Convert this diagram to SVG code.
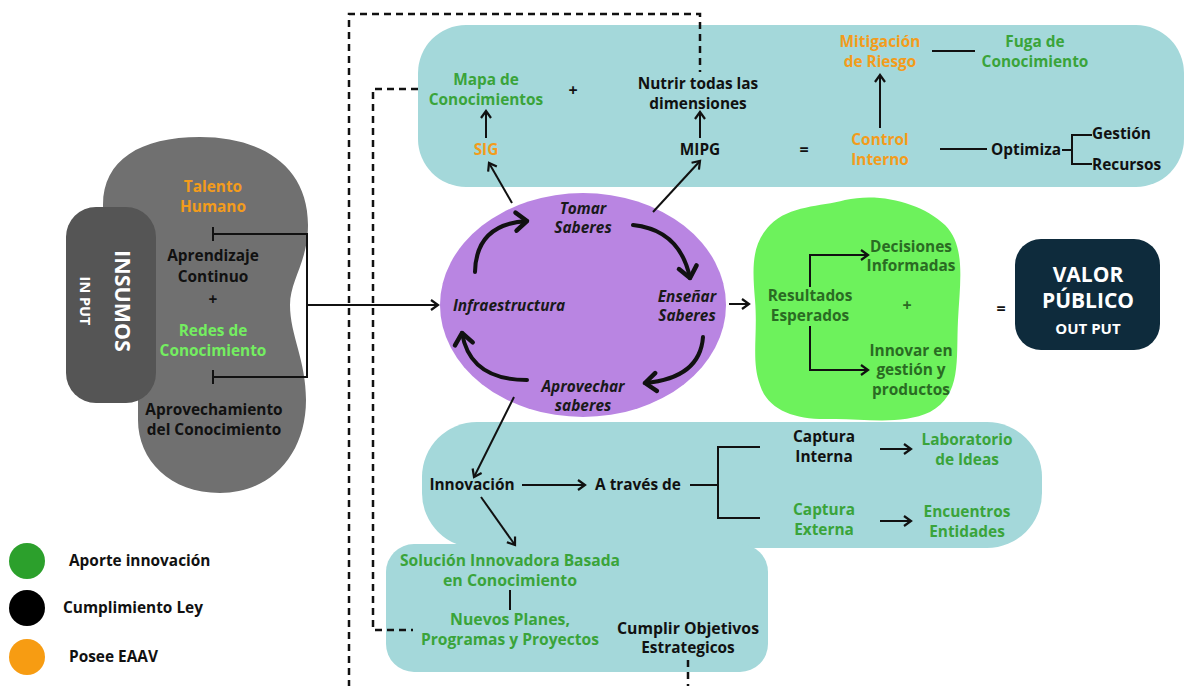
<svg xmlns="http://www.w3.org/2000/svg" width="1186" height="686" viewBox="0 0 1186 686">
<style>
text{font-family:"Open Sans","DejaVu Sans",sans-serif;font-weight:700;font-size:15.4px;text-anchor:middle}
.bk{fill:#111}
.or{fill:#f39c1c}
.gr{fill:#3aa43a}
.lg{fill:#74ee60}
.dg{fill:#2a6b23}
.wh{fill:#fff}
.it{font-style:italic;fill:#1a1a1a}
.ln{fill:none;stroke:#111;stroke-width:2}
.ds{fill:none;stroke:#111;stroke-width:2.5;stroke-dasharray:7 5}
.cv{fill:none;stroke:#111;stroke-width:4;stroke-linecap:round}
.lt{text-anchor:start}
</style>
<defs>
<marker id="ah" markerUnits="userSpaceOnUse" markerWidth="14" markerHeight="14" refX="10" refY="7" orient="auto">
<polyline points="3,2 10,7 3,12" fill="none" stroke="#111" stroke-width="2.2"/>
</marker>
<marker id="ch" markerUnits="userSpaceOnUse" markerWidth="24" markerHeight="24" refX="16" refY="12" orient="auto">
<polyline points="5,3 16,12 5,21" fill="none" stroke="#111" stroke-width="4.5" stroke-linecap="round" stroke-linejoin="round"/>
</marker>
</defs>
<rect width="1186" height="686" fill="#fff"/>

<g id="insumos">
<path d="M103,205 C103,160 140,137 200,137 C260,137 308,165 308,225 C308,262 290,280 290,305 C290,335 306,360 306,400 C306,455 270,493 220,493 C170,493 138,460 138,420 L138,400 L105,400 Z" fill="#707070"/>
<rect x="66" y="207" width="90" height="196" rx="30" fill="#555"/>
<text class="wh" transform="translate(115,301) rotate(90)" style="font-size:21.5px">INSUMOS</text>
<text class="wh" transform="translate(80,301) rotate(90)" style="font-size:14.5px">IN PUT</text>
<text class="or" x="213" y="192">Talento</text>
<text class="or" x="213" y="212">Humano</text>
<text class="bk" x="213" y="261">Aprendizaje</text>
<text class="bk" x="213" y="282">Continuo</text>
<text class="bk" x="213" y="305">+</text>
<text class="lg" x="213" y="336">Redes de</text>
<text class="lg" x="213" y="356">Conocimiento</text>
<text class="bk" x="214" y="415">Aprovechamiento</text>
<text class="bk" x="214" y="435">del Conocimiento</text>
</g>

<g id="top-panel">
<rect x="418" y="25" width="766" height="162" rx="48" fill="#a4d8da"/>
<text class="gr" x="486" y="85">Mapa de</text>
<text class="gr" x="486" y="105">Conocimientos</text>
<text class="bk" x="573" y="96" style="font-size:16px">+</text>
<text class="bk" x="698" y="89">Nutrir todas las</text>
<text class="bk" x="698" y="109">dimensiones</text>
<text class="or" x="486" y="155">SIG</text>
<text class="bk" x="700" y="155">MIPG</text>
<text class="bk" x="804" y="155" style="font-size:16px">=</text>
<text class="or" x="880" y="47">Mitigación</text>
<text class="or" x="880" y="67">de Riesgo</text>
<text class="gr" x="1035" y="47">Fuga de</text>
<text class="gr" x="1035" y="67">Conocimiento</text>
<text class="or" x="880" y="145">Control</text>
<text class="or" x="880" y="165">Interno</text>
<text class="bk lt" x="991" y="155">Optimiza</text>
<text class="bk lt" x="1092" y="139">Gestión</text>
<text class="bk lt" x="1092" y="170">Recursos</text>
</g>

<g id="ciclo">
<ellipse cx="583" cy="305" rx="143" ry="112" fill="#b985e2"/>
<text class="it" x="583" y="214">Tomar</text>
<text class="it" x="583" y="233">Saberes</text>
<text class="it" x="687" y="302">Enseñar</text>
<text class="it" x="687" y="321">Saberes</text>
<text class="it" x="509" y="311">Infraestructura</text>
<text class="it" x="583" y="392">Aprovechar</text>
<text class="it" x="583" y="411">saberes</text>
</g>

<g id="resultados">
<path d="M770,225 C790,205 820,207 845,200 C880,192 922,203 945,225 C966,246 960,282 958,320 C956,360 962,395 930,412 C900,426 860,418 830,419 C795,420 768,410 760,385 C751,360 758,335 755,300 C752,265 752,244 770,225 Z" fill="#6df25c"/>
<text class="dg" x="911" y="252">Decisiones</text>
<text class="dg" x="911" y="271">Informadas</text>
<text class="dg" x="810" y="301">Resultados</text>
<text class="dg" x="810" y="321">Esperados</text>
<text class="dg" x="907" y="311" style="font-size:16px">+</text>
<text class="dg" x="911" y="356">Innovar en</text>
<text class="dg" x="911" y="375">gestión y</text>
<text class="dg" x="911" y="395">productos</text>
</g>

<g id="valor">
<text class="bk" x="1001" y="314" style="font-size:16px">=</text>
<rect x="1015" y="239" width="145" height="111" rx="26" fill="#0e2b3c"/>
<text class="wh" x="1088" y="282" style="font-size:21px">VALOR</text>
<text class="wh" x="1088" y="308" style="font-size:21px">PÚBLICO</text>
<text class="wh" x="1088" y="334" style="font-size:15px">OUT PUT</text>
</g>

<g id="innovacion-panel">
<rect x="422" y="422" width="620" height="126" rx="55" fill="#a4d8da"/>
<rect x="386" y="544" width="382" height="128" rx="28" fill="#a4d8da"/>
<text class="bk" x="472" y="490">Innovación</text>
<text class="bk" x="638" y="490">A través de</text>
<text class="bk" x="824" y="442">Captura</text>
<text class="bk" x="824" y="462">Interna</text>
<text class="gr" x="967" y="445">Laboratorio</text>
<text class="gr" x="967" y="465">de Ideas</text>
<text class="gr" x="824" y="515">Captura</text>
<text class="gr" x="824" y="535">Externa</text>
<text class="gr" x="967" y="517">Encuentros</text>
<text class="gr" x="967" y="537">Entidades</text>
<text class="gr" x="510" y="566" textLength="220" lengthAdjust="spacingAndGlyphs">Solución Innovadora Basada</text>
<text class="gr" x="510" y="586" textLength="134" lengthAdjust="spacingAndGlyphs">en Conocimiento</text>
<text class="gr" x="510" y="625" textLength="120" lengthAdjust="spacingAndGlyphs">Nuevos Planes,</text>
<text class="gr" x="510" y="645" textLength="178" lengthAdjust="spacingAndGlyphs">Programas y Proyectos</text>
<text class="bk" x="688" y="634" textLength="142" lengthAdjust="spacingAndGlyphs">Cumplir Objetivos</text>
<text class="bk" x="688" y="653">Estrategicos</text>
</g>

<g id="leyenda">
<circle cx="27" cy="561" r="18" fill="#2ca02c"/>
<circle cx="27" cy="608" r="18" fill="#000"/>
<circle cx="27" cy="657" r="18" fill="#f79c12"/>
<text class="bk lt" x="69" y="566">Aporte innovación</text>
<text class="bk lt" x="63" y="613">Cumplimiento Ley</text>
<text class="bk lt" x="69" y="662">Posee EAAV</text>
</g>

<g id="connectors">
<path class="ln" d="M213,227 V241 M213,234 H307 V377 H213 M213,370 V384"/>
<path class="ln" d="M307,305 H438" marker-end="url(#ah)"/>
<path class="ln" d="M486,138 V111" marker-end="url(#ah)"/>
<path class="ln" d="M700,138 V112" marker-end="url(#ah)"/>
<path class="ln" d="M512,203 L489,163" marker-end="url(#ah)"/>
<path class="ln" d="M653,212 L700,161" marker-end="url(#ah)"/>
<path class="ln" d="M880,128 V75" marker-end="url(#ah)"/>
<path class="ln" d="M932,51 H975"/>
<path class="ln" d="M940,149 H987"/>
<path class="ln" d="M1062,150 H1072 M1092,135 H1072 V164 H1092"/>
<path class="ln" d="M729,304 H749" marker-end="url(#ah)"/>
<path class="ln" d="M810,287 V255 H868" marker-end="url(#ah)"/>
<path class="ln" d="M810,326 V370 H868" marker-end="url(#ah)"/>
<path class="ln" d="M514,397 L474,477" marker-end="url(#ah)"/>
<path class="ln" d="M481,497 L515,545" marker-end="url(#ah)"/>
<path class="ln" d="M522,485 H585" marker-end="url(#ah)"/>
<path class="ln" d="M690,485 H718 M760,447 H718 V518 H760"/>
<path class="ln" d="M880,449 H911" marker-end="url(#ah)"/>
<path class="ln" d="M880,521 H911" marker-end="url(#ah)"/>
<path class="ln" d="M510,590 V610"/>
<path class="cv" d="M475,272 Q476,224 527,221" marker-end="url(#ch)"/>
<path class="cv" d="M633,225 Q680,230 690,278" marker-end="url(#ch)"/>
<path class="cv" d="M703,337 Q700,378 645,383" marker-end="url(#ch)"/>
<path class="cv" d="M527,380 Q470,380 462,333" marker-end="url(#ch)"/>
<path class="ds" d="M688,660 V690 H349 V14 H700 V72"/>
<path class="ds" d="M418,89 H373 V630 H413"/>
</g>
</svg>
